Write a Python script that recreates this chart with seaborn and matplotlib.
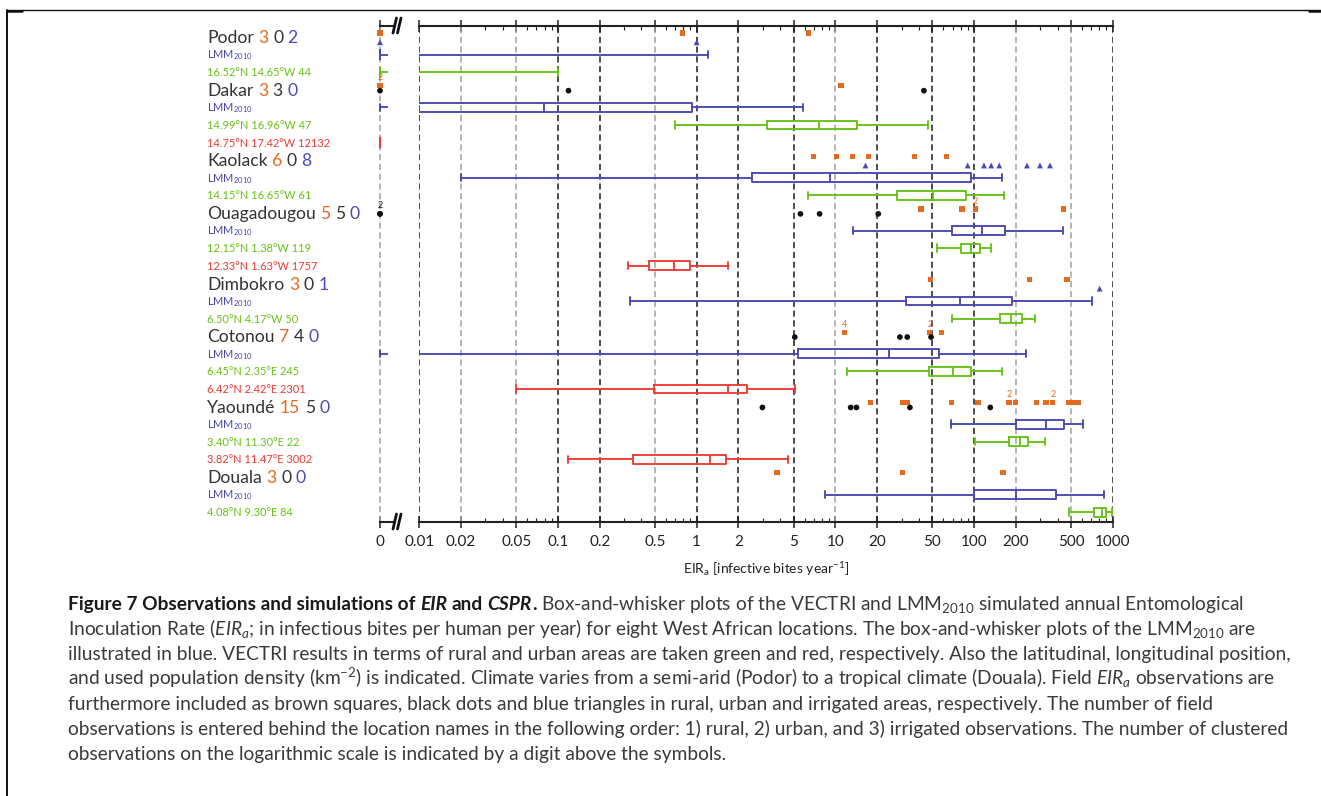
import numpy as np
import pandas as pd
import matplotlib
matplotlib.use("Agg")
import matplotlib.pyplot as plt
import matplotlib.ticker as mticker
import matplotlib.transforms as mtransforms
from matplotlib.lines import Line2D
import seaborn as sns

# ---------------------------------------------------------------- data
locations = ["Podor", "Dakar", "Kaolack", "Ouagadougou", "Dimbokro",
             "Cotonou", "Yaoundé", "Douala"]

rural_site = ["16.52°N 14.65°W 44", "14.99°N 16.96°W 47", "14.15°N 16.65°W 61",
              "12.15°N 1.38°W 119", "6.50°N 4.17°W 50", "6.45°N 2.35°E 245",
              "3.40°N 11.30°E 22", "4.08°N 9.30°E 84"]
urban_site = [None, "14.75°N 17.42°W 12132", None, "12.33°N 1.63°W 1757",
              None, "6.42°N 2.42°E 2301", "3.82°N 11.47°E 3002", None]

# simulated EIRa: [whisker low, Q1, median, Q3, whisker high]
lmm_stats = [
    [0, 0, 0, 0, 1.21],
    [0, 0.005, 0.079, 0.93, 5.8],
    [0.02, 2.5, 9.1, 94.6, 160],
    [13.3, 69.3, 115, 168, 439],
    [0.33, 32.3, 79, 189, 705],
    [0, 5.35, 24.5, 55.8, 236],
    [68, 202, 328, 442, 606],
    [8.4, 100, 202, 387, 859],
]
rural_stats = [
    [0, 0, 0, 0, 0.1],
    [0.70, 3.24, 7.59, 14.4, 46.5],
    [6.3, 27.9, 50.6, 87.9, 165],
    [54, 81, 94.6, 111, 133],
    [69, 155, 185, 223, 275],
    [12.2, 47.3, 70.3, 95.7, 160],
    [101, 179, 215, 246, 324],
    [488, 738, 832, 900, 993],
]
urban_stats = [
    None,
    [0, 0, 0, 0, 0],
    None,
    [0.32, 0.45, 0.69, 0.90, 1.68],
    None,
    [0.05, 0.49, 1.67, 2.32, 5.1],
    [0.119, 0.35, 1.24, 1.63, 4.57],
    None,
]

# field observations of EIRa per location
rural_obs = [
    [0, 0.79, 6.4],
    [0, 0, 11.0],
    [7.0, 10.2, 13.3, 17.3, 37.3, 63.7],
    [41.5, 82, 102, 102, 439],
    [48.3, 252, 469],
    [11.6, 11.6, 11.6, 11.6, 48, 48, 58.5],
    [17.9, 30.3, 33, 68.9, 107, 179, 179, 198, 284, 330, 370, 370, 481, 520, 567],
    [3.8, 30.3, 162],
]
urban_obs = [
    [],
    [0, 0.119, 43.5],
    [],
    [0, 0, 5.6, 7.7, 20.4],
    [],
    [5.1, 29.2, 33, 49],
    [2.98, 12.9, 14.2, 34.5, 131],
    [],
]
irrigated_obs = [
    [0, 1.0],
    [],
    [16.5, 90, 118, 133, 152, 241, 299, 353],
    [],
    [805],
    [],
    [],
    [],
]

tick_values = [0.01, 0.02, 0.05, 0.1, 0.2, 0.5, 1, 2, 5, 10, 20, 50,
               100, 200, 500, 1000]

# ---------------------------------------------------------------- style
W, H, DPI = 1321, 796, 100
sns.set_theme(style="white")
plt.rcParams.update({
    "font.family": ["Lato", "DejaVu Sans"],
    "mathtext.fontset": "custom",
    "mathtext.rm": "Lato",
    "mathtext.it": "Lato:italic",
    "mathtext.bf": "Lato:bold",
    "mathtext.fallback": "stixsans",
})

C_LMM = "#4747b5"
C_RURAL = "#66c214"
C_URBAN = "#ee3a33"
C_SQ = "#e5691f"
C_DOT = "#111111"
C_TRI = "#4a4ab8"
C_TEXT = "#333333"
box_palette = {"LMM": C_LMM, "rural": C_RURAL, "urban": C_URBAN}
obs_palette = {"rural": C_SQ, "urban": C_DOT, "irrigated": C_TRI}
obs_markers = {"rural": "s", "urban": "o", "irrigated": "^"}
obs_sizes = {"rural": 14, "urban": 17, "irrigated": 18}
obs_offset = {"rural": -0.23, "urban": 0.05, "irrigated": 0.3}

# ---------------------------------------------------------------- row layout
header_rows, box_records, label_records = [], [], []
r = 0
for i, loc in enumerate(locations):
    header_rows.append(r)
    r += 1
    for model, stats, label in [("LMM", lmm_stats[i], "LMM$_{2010}$"),
                                ("rural", rural_stats[i], rural_site[i]),
                                ("urban", urban_stats[i], urban_site[i])]:
        if stats is None:
            continue
        box_records.append((r, model, stats))
        label_records.append((r, model, label))
        r += 1
n_rows = r

FLOOR = 1e-4  # zero values sit left of the broken log axis
box_df = pd.DataFrame([(row, m, max(v, FLOOR)) for row, m, st in box_records for v in st],
                      columns=["row", "model", "value"])
# zero panel: zero stays at 0, anything positive runs off the right edge
zero_df = pd.DataFrame([(row, m, 0.0 if v == 0 else 10.0)
                        for row, m, st in box_records if st[0] == 0 for v in st],
                       columns=["row", "model", "value"])

obs_records = []
for kind, series in [("rural", rural_obs), ("urban", urban_obs), ("irrigated", irrigated_obs)]:
    for i, vals in enumerate(series):
        for v in vals:
            obs_records.append((header_rows[i] + obs_offset[kind], kind, v))
obs_df = pd.DataFrame(obs_records, columns=["y", "kind", "value"])

# ---------------------------------------------------------------- figure
fig = plt.figure(figsize=(W / DPI, H / DPI), dpi=DPI)
ax_top, ax_bot = 26, 522
ax = fig.add_axes([419.3 / W, 1 - ax_bot / H, 693.4 / W, (ax_bot - ax_top) / H])
ax0 = fig.add_axes([372 / W, 1 - ax_bot / H, 16 / W, (ax_bot - ax_top) / H], sharey=ax)
ax.set_xscale("log")

DARK, LIGHT = "#1c1c1c", "#a0a0a0"
light_ticks = {0.02, 0.05, 0.5, 10, 200, 500}
dash = (0, (4, 2.4))
for t in tick_values:
    ax.axvline(t, color=LIGHT if t in light_ticks else DARK, lw=1.1, ls=dash, zorder=1)
ax0.axvline(0, color=LIGHT, lw=1.1, ls=dash, zorder=1)

box_kw = dict(orient="y", native_scale=True, fill=False, whis=(0, 100), width=0.5,
              linewidth=1.35, saturation=1, legend=False, capwidths=0.42, zorder=3)
sns.boxplot(data=box_df, x="value", y="row", hue="model", palette=box_palette, ax=ax, **box_kw)
sns.boxplot(data=zero_df, x="value", y="row", hue="model", palette=box_palette, ax=ax0, **box_kw)

sc_kw = dict(x="value", y="y", hue="kind", style="kind", size="kind", palette=obs_palette,
             markers=obs_markers, sizes=obs_sizes, linewidth=0, legend=False, zorder=4)
sns.scatterplot(data=obs_df[obs_df["value"] > 0], ax=ax, **sc_kw)
sns.scatterplot(data=obs_df[obs_df["value"] == 0], ax=ax0, **sc_kw)

# digits above clustered observations
for (y, kind, v), cnt in obs_df.groupby(["y", "kind", "value"]).size().items():
    if cnt > 1:
        target = ax0 if v == 0 else ax
        target.text(v, y - 0.45, str(cnt), color=obs_palette[kind], fontsize=6.5,
                    ha="center", va="center", zorder=5)

# axes cosmetics
for a in (ax, ax0):
    a.spines["left"].set_visible(False)
    a.spines["right"].set_visible(False)
    for s in ("top", "bottom"):
        a.spines[s].set_linewidth(1.5)
        a.spines[s].set_color("#222222")
    a.set_ylim(n_rows - 1 + 0.56, -0.625)
    a.yaxis.set_visible(False)
    a.set_ylabel("")
    a.set_xlabel("")
    a.tick_params(axis="x", which="major", top=True, bottom=True, direction="inout",
                  length=8, width=1.1, color="#222222", labelsize=11, labelcolor="#222222",
                  pad=5.5)

ax.set_xlim(tick_values[0], tick_values[-1])
ax.xaxis.set_major_locator(mticker.FixedLocator(tick_values))
ax.xaxis.set_major_formatter(mticker.FixedFormatter([f"{t:g}" for t in tick_values]))
ax.xaxis.set_minor_locator(mticker.LogLocator(base=10, subs=(3, 4, 6, 7, 8, 9)))
ax.xaxis.set_minor_formatter(mticker.NullFormatter())
ax.tick_params(axis="x", which="minor", top=True, bottom=True, direction="in",
               length=3, width=0.8, color="#222222")

ax0.set_xlim(-1, 1)
ax0.set_xticks([0])
ax0.set_xticklabels(["0"])
for s in ("top", "bottom"):
    ax0.spines[s].set_bounds(0, 1)

ax.set_xlabel(r"EIR$_\mathrm{a}$ [infective bites year$^{-1}$]", fontsize=10,
              color="#222222", labelpad=8)


def fx(px):
    return px / W


def fy(py):
    return 1 - py / H


# axis break marks
for yb in (ax_top, ax_bot):
    fig.add_artist(Line2D([fx(388), fx(394)], [fy(yb), fy(yb)], color="#222222", lw=1.5))
    for x0 in (393, 397.5):
        fig.add_artist(Line2D([fx(x0), fx(x0 + 3.5)], [fy(yb + 7), fy(yb - 8)],
                              color="#111111", lw=2.0))

# frame lines
fig.add_artist(Line2D([fx(7), fx(W)], [fy(10), fy(10)], color="#111111", lw=1.0))
fig.add_artist(Line2D([fx(7), fx(7)], [fy(10), fy(H)], color="#111111", lw=1.4))
fig.add_artist(Line2D([fx(7), fx(22)], [fy(10.5), fy(10.5)], color="#111111", lw=1.8))
fig.add_artist(Line2D([fx(1309), fx(W)], [fy(10.5), fy(10.5)], color="#111111", lw=1.8))

# ---------------------------------------------------------------- text runs
renderer = fig.canvas.get_renderer()


def space_width(size, weight="normal", style="normal"):
    kw = dict(fontsize=size, fontweight=weight, fontstyle=style)
    a = fig.text(0, 0, "x x", **kw)
    b = fig.text(0, 0, "xx", **kw)
    w = a.get_window_extent(renderer).width - b.get_window_extent(renderer).width
    a.remove()
    b.remove()
    return w


def draw_runs(x_px, y, trans, runs, size):
    x = x_px
    artists = []
    for text, color, weight, style, space in runs:
        t = fig.text(x / W, y, text, transform=trans, fontsize=size, color=color,
                     fontweight=weight, fontstyle=style, ha="left", va="baseline")
        artists.append(t)
        x += t.get_window_extent(renderer).width
        if space:
            x += space_width(size, weight, style)
    return x, artists


label_x = 207
row_trans = mtransforms.blended_transform_factory(fig.transFigure, ax.transData)

HEAD_FS, SMALL_FS = 12.6, 7.9
for i, loc in enumerate(locations):
    tr = mtransforms.offset_copy(row_trans, fig=fig, y=-0.36 * HEAD_FS, units="points")
    runs = [(loc, C_TEXT, "normal", "normal", True),
            (str(len(rural_obs[i])), C_SQ, "normal", "normal", True),
            (str(len(urban_obs[i])), C_TEXT, "normal", "normal", True),
            (str(len(irrigated_obs[i])), C_TRI, "normal", "normal", False)]
    draw_runs(label_x, header_rows[i], tr, runs, HEAD_FS)

label_colors = {"LMM": C_LMM, "rural": C_RURAL, "urban": C_URBAN}
for row, model, label in label_records:
    tr = mtransforms.offset_copy(row_trans, fig=fig, y=-0.36 * SMALL_FS, units="points")
    fig.text(label_x / W, row, label, transform=tr, fontsize=SMALL_FS,
             color=label_colors[model], ha="left", va="baseline")

# caption
CAP_C, CAP_B = "#3a3a3a", "#1a1a1a"
cap_lines = [
    [("Figure 7 Observations and simulations of", CAP_B, "bold", "normal", True),
     ("EIR", CAP_B, "bold", "italic", True),
     ("and", CAP_B, "bold", "normal", True),
     ("CSPR", CAP_B, "bold", "italic", False),
     (".", CAP_B, "bold", "normal", True),
     ("Box-and-whisker plots of the VECTRI and LMM$_{2010}$ simulated annual Entomological",
      CAP_C, "normal", "normal", False)],
    [("Inoculation Rate ($EIR_a$; in infectious bites per human per year) for eight West "
      "African locations. The box-and-whisker plots of the LMM$_{2010}$ are",
      CAP_C, "normal", "normal", False)],
    [("illustrated in blue. VECTRI results in terms of rural and urban areas are taken "
      "green and red, respectively. Also the latitudinal, longitudinal position,",
      CAP_C, "normal", "normal", False)],
    [("and used population density (km$^{-2}$) is indicated. Climate varies from a "
      "semi-arid (Podor) to a tropical climate (Douala). Field $EIR_a$ observations are",
      CAP_C, "normal", "normal", False)],
    [("furthermore included as brown squares, black dots and blue triangles in rural, "
      "urban and irrigated areas, respectively. The number of field",
      CAP_C, "normal", "normal", False)],
    [("observations is entered behind the location names in the following order: 1) rural, "
      "2) urban, and 3) irrigated observations. The number of clustered",
      CAP_C, "normal", "normal", False)],
    [("observations on the logarithmic scale is indicated by a digit above the symbols.",
      CAP_C, "normal", "normal", False)],
]
# size the caption so its longest plain line ends where the text block ends
CAP_X0, CAP_X1, FIT_LINE = 68, 1289, 5
probe_end, probe = draw_runs(CAP_X0, 0.5, fig.transFigure, cap_lines[FIT_LINE], 12.0)
for t in probe:
    t.remove()
CAP_FS = 12.0 * (CAP_X1 - CAP_X0) / (probe_end - CAP_X0)
for k, runs in enumerate(cap_lines):
    draw_runs(CAP_X0, fy(610 + 25 * k), fig.transFigure, runs, CAP_FS)

fig.savefig("out.png", dpi=DPI)
